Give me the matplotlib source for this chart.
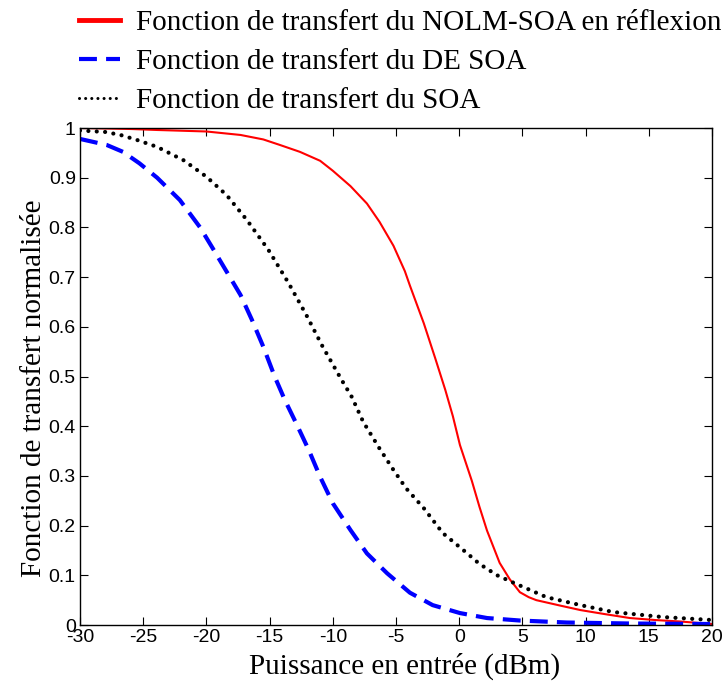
import matplotlib
matplotlib.use("Agg")
import matplotlib.pyplot as plt

# NOLM-SOA en réflexion (red, solid)
x_nolm = [-30, -26, -23.9, -20, -17.3, -15.5, -14.2, -12.6, -11.0, -10.0, -8.6, -7.3, -6.3,
          -5.2, -4.3, -3.9, -2.8, -1.9, -1.1, -0.5, 0.06, 1.0, 1.6, 2.2, 3.2, 4.0, 4.8, 5.5,
          6.1, 8, 9.6, 11.5, 13.5, 15.5, 17.5, 20]
y_nolm = [1.0, 0.998, 0.996, 0.993, 0.986, 0.977, 0.966, 0.952, 0.934, 0.914, 0.883, 0.848,
          0.811, 0.763, 0.712, 0.683, 0.607, 0.537, 0.473, 0.42, 0.362, 0.29, 0.238, 0.19,
          0.125, 0.092, 0.066, 0.056, 0.05, 0.039, 0.03, 0.022, 0.014, 0.01, 0.007, 0.002]

# DE SOA (blue, dashed)
x_de = [-30, -27.9, -26.6, -25.3, -23.9, -22.1, -20.5, -19.5, -18.4, -17.3, -16.4, -15.5,
        -14.6, -13.8, -12.9, -11.9, -11.0, -10.0, -8.6, -7.3, -5.7, -3.9, -2.1, 0.06, 2.2,
        4.8, 8.5, 13.5, 20]
y_de = [0.978, 0.966, 0.952, 0.929, 0.90, 0.855, 0.80, 0.758, 0.711, 0.664, 0.614, 0.56,
        0.5, 0.453, 0.406, 0.352, 0.298, 0.245, 0.191, 0.144, 0.104, 0.065, 0.04, 0.024,
        0.014, 0.009, 0.005, 0.003, 0.002]

# SOA (black, dotted)
x_soa = [-30, -28, -26.8, -25.5, -23.9, -21.8, -20, -18.4, -16.8, -15.1, -13.5, -12.1, -10.8,
         -9.3, -8.5, -7.6, -6.3, -5.2, -4.2, -2.8, -1.3, 0.5, 1.6, 3, 4.3, 6.9, 9.6, 12.2,
         16.1, 20]
y_soa = [0.995, 0.992, 0.986, 0.976, 0.962, 0.935, 0.902, 0.865, 0.815, 0.755, 0.688, 0.624,
         0.56, 0.493, 0.459, 0.409, 0.355, 0.312, 0.275, 0.235, 0.185, 0.147, 0.123, 0.1,
         0.085, 0.056, 0.04, 0.026, 0.016, 0.01]

labels = ["Fonction de transfert du NOLM-SOA en réflexion",
          "Fonction de transfert du DE SOA",
          "Fonction de transfert du SOA"]
x_ticks = [-30, -25, -20, -15, -10, -5, 0, 5, 10, 15, 20]
y_ticks = [0, 0.1, 0.2, 0.3, 0.4, 0.5, 0.6, 0.7, 0.8, 0.9, 1]
y_ticklabels = ["0", "0.1", "0.2", "0.3", "0.4", "0.5", "0.6", "0.7", "0.8", "0.9", "1"]

serif = "Liberation Serif"
sans = "Liberation Sans"

fig = plt.figure(figsize=(7.22, 6.88), dpi=100)
ax = fig.add_axes([80 / 722, 63 / 688, 632 / 722, 497 / 688])

ax.plot(x_nolm, y_nolm, color="red", lw=1.5, label=labels[0])
ax.plot(x_de, y_de, color="blue", lw=3, linestyle=(0, (4.3, 2.2)), label=labels[1])
ax.plot(x_soa, y_soa, color="black", lw=3, linestyle=(0, (0.01, 2.0)),
        dash_capstyle="round", label=labels[2])

ax.set_xlim(-30, 20)
ax.set_ylim(0, 1)
ax.set_xticks(x_ticks)
ax.set_xticklabels([str(t) for t in x_ticks], fontfamily=sans, fontsize=14)
ax.set_yticks(y_ticks)
ax.set_yticklabels(y_ticklabels, fontfamily=sans, fontsize=14)
ax.tick_params(direction="in", top=True, right=True, length=6, width=0.8, pad=3)
for s in ax.spines.values():
    s.set_linewidth(1.0)

ax.set_xlabel("Puissance en entrée (dBm)", fontfamily=serif, fontsize=21)
ax.set_ylabel("Fonction de transfert normalisée", fontfamily=serif, fontsize=21)
ax.xaxis.set_label_coords(0.514, -0.056)
ax.yaxis.set_label_coords(-0.053, 0.477)

leg = fig.legend(loc="upper left", bbox_to_anchor=(79 / 722, 1 - 10 / 688), frameon=False,
                 prop={"family": serif, "size": 21}, handlelength=1.4, handletextpad=0.55,
                 labelspacing=0.42, borderpad=0, borderaxespad=0)
handles = leg.get_lines()
handles[0].set_linewidth(3.5)
handles[2].set_linewidth(2.2)

fig.savefig("out.png", dpi=100)
